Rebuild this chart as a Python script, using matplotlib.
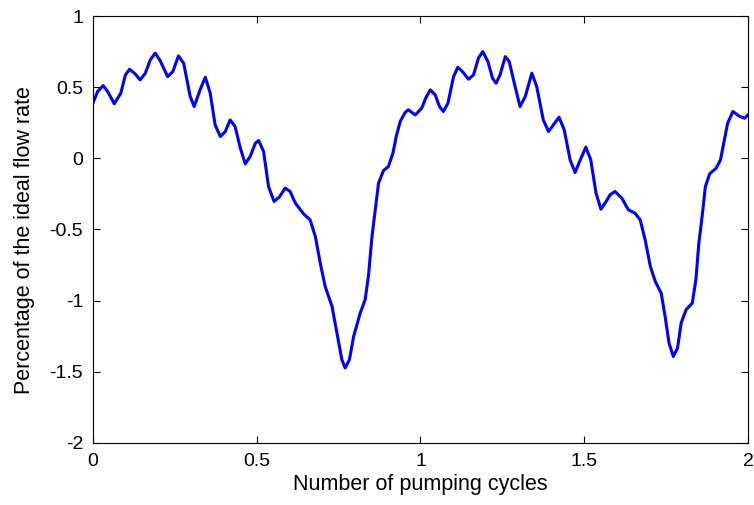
import matplotlib
matplotlib.use('Agg')
import matplotlib.pyplot as plt

# flow rate over two pumping cycles
cycles = [
    0.000, 0.014, 0.031, 0.045, 0.065, 0.085, 0.099, 0.112, 0.129, 0.144,
    0.160, 0.175, 0.190, 0.205, 0.228, 0.244, 0.261, 0.277, 0.297, 0.309,
    0.327, 0.343, 0.358, 0.373, 0.389, 0.404, 0.419, 0.434, 0.450, 0.465,
    0.480, 0.496, 0.506, 0.521, 0.536, 0.553, 0.569, 0.587, 0.602, 0.618,
    0.643, 0.663, 0.679, 0.694, 0.709, 0.730, 0.745, 0.760, 0.770, 0.783,
    0.796, 0.816, 0.831, 0.841, 0.852, 0.862, 0.872, 0.887, 0.902, 0.916,
    0.926, 0.938, 0.953, 0.963, 0.984, 1.004, 1.016, 1.030, 1.045, 1.058,
    1.070, 1.084, 1.101, 1.114, 1.128, 1.147, 1.162, 1.177, 1.190, 1.206,
    1.220, 1.231, 1.243, 1.259, 1.271, 1.289, 1.304, 1.320, 1.340, 1.355,
    1.375, 1.391, 1.406, 1.423, 1.439, 1.457, 1.472, 1.488, 1.505, 1.520,
    1.536, 1.551, 1.567, 1.579, 1.594, 1.615, 1.635, 1.655, 1.671, 1.686,
    1.702, 1.717, 1.735, 1.747, 1.759, 1.772, 1.785, 1.796, 1.811, 1.830,
    1.841, 1.850, 1.860, 1.870, 1.883, 1.903, 1.916, 1.926, 1.938, 1.954,
    1.975, 1.990, 2.000,
]
flow = [
    0.388, 0.469, 0.511, 0.469, 0.383, 0.458, 0.586, 0.626, 0.593, 0.551,
    0.598, 0.692, 0.739, 0.687, 0.574, 0.610, 0.720, 0.668, 0.434, 0.364,
    0.481, 0.570, 0.458, 0.235, 0.153, 0.188, 0.270, 0.223, 0.072, -0.039,
    0.013, 0.107, 0.125, 0.048, -0.198, -0.303, -0.272, -0.209, -0.233, -0.315,
    -0.390, -0.432, -0.549, -0.736, -0.900, -1.041, -1.228, -1.415, -1.473, -1.415,
    -1.251, -1.087, -0.994, -0.830, -0.549, -0.362, -0.174, -0.086, -0.058, 0.037,
    0.153, 0.258, 0.322, 0.341, 0.305, 0.353, 0.423, 0.481, 0.446, 0.364,
    0.329, 0.388, 0.574, 0.640, 0.610, 0.556, 0.586, 0.704, 0.750, 0.680,
    0.563, 0.528, 0.586, 0.715, 0.680, 0.504, 0.364, 0.434, 0.598, 0.504,
    0.270, 0.188, 0.235, 0.289, 0.200, -0.011, -0.100, -0.011, 0.079, -0.011,
    -0.244, -0.357, -0.303, -0.256, -0.233, -0.280, -0.362, -0.385, -0.432, -0.572,
    -0.760, -0.865, -0.947, -1.111, -1.298, -1.392, -1.333, -1.157, -1.064, -1.017,
    -0.853, -0.596, -0.409, -0.198, -0.109, -0.069, -0.011, 0.107, 0.247, 0.329,
    0.294, 0.282, 0.305,
]
xticks = [0, 0.5, 1, 1.5, 2]
yticks = [-2, -1.5, -1, -0.5, 0, 0.5, 1]

plt.rcParams['font.family'] = ['Liberation Sans', 'DejaVu Sans']

fig = plt.figure(figsize=(7.54, 5.05), dpi=100)
ax = fig.add_axes([0.1233, 0.1228, 0.8687, 0.8455])

ax.plot(cycles, flow, color='#0000ff', linewidth=2.2, solid_joinstyle='round')

ax.set_xlim(0, 2)
ax.set_ylim(-2, 1)
ax.set_xticks(xticks)
ax.set_xticklabels([f'{t:g}' for t in xticks])
ax.set_yticks(yticks)
ax.set_yticklabels([f'{t:g}' for t in yticks])
ax.tick_params(direction='in', top=True, right=True, labelsize=14, length=5, pad=7)
for s in ax.spines.values():
    s.set_linewidth(0.8)

ax.set_xlabel('Number of pumping cycles', fontsize=15.5, labelpad=3)
ax.set_ylabel('Percentage of the ideal flow rate', fontsize=15.5)
ax.yaxis.set_label_coords(-0.088, 0.475)

fig.savefig('out.png', dpi=100)
